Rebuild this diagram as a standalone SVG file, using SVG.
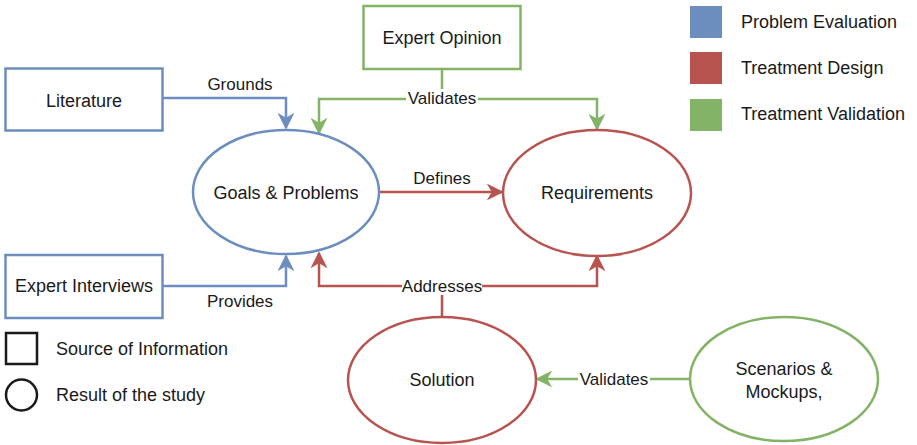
<svg xmlns="http://www.w3.org/2000/svg" width="917" height="445" viewBox="0 0 917 445">
  <style>
    text { font-family: "Liberation Sans", Arial, Helvetica, sans-serif; fill: #1a1a1a; }
    .node { font-size: 18px; text-anchor: middle; }
    .lbl { font-size: 17px; text-anchor: middle; }
    .leg { font-size: 18px; }
    .shape { fill: #ffffff; stroke-width: 2.5; }
    .blue { stroke: #6c8ebf; }
    .red { stroke: #b85450; }
    .green { stroke: #82b366; }
    .edge { fill: none; stroke-width: 2.5; }
    .bg { fill: #ffffff; }
  </style>
  <defs>
    <marker id="arrBlue" viewBox="0 0 10 10" refX="9" refY="5" markerWidth="6.8" markerHeight="6.8" markerUnits="strokeWidth" orient="auto">
      <path d="M0,0 L10,5 L0,10 L3,5 z" fill="#6c8ebf"/>
    </marker>
    <marker id="arrRed" viewBox="0 0 10 10" refX="9" refY="5" markerWidth="6.8" markerHeight="6.8" markerUnits="strokeWidth" orient="auto">
      <path d="M0,0 L10,5 L0,10 L3,5 z" fill="#b85450"/>
    </marker>
    <marker id="arrGreen" viewBox="0 0 10 10" refX="9" refY="5" markerWidth="6.8" markerHeight="6.8" markerUnits="strokeWidth" orient="auto">
      <path d="M0,0 L10,5 L0,10 L3,5 z" fill="#82b366"/>
    </marker>
  </defs>

  <rect width="917" height="445" fill="#ffffff"/>

  <!-- connectors -->
  <g id="connectors">
    <path class="edge blue" d="M162,98 H286 V128" marker-end="url(#arrBlue)"/>
    <path class="edge blue" d="M162,286 H286 V256" marker-end="url(#arrBlue)"/>
    <path class="edge green" d="M442,69 V99 H319 V133" marker-end="url(#arrGreen)"/>
    <path class="edge green" d="M442,99 H597 V129" marker-end="url(#arrGreen)"/>
    <path class="edge red" d="M380,192 H502" marker-end="url(#arrRed)"/>
    <path class="edge red" d="M442,317 V286 H319 V253" marker-end="url(#arrRed)"/>
    <path class="edge red" d="M442,286 H597 V256" marker-end="url(#arrRed)"/>
    <path class="edge green" d="M690,379 H537" marker-end="url(#arrGreen)"/>

    <text class="lbl" x="240" y="90">Grounds</text>
    <text class="lbl" x="240" y="307">Provides</text>
    <text class="lbl" x="442" y="184">Defines</text>
    <rect class="bg" x="406" y="89" width="72" height="18"/>
    <text class="lbl" x="442" y="104">Validates</text>
    <rect class="bg" x="402" y="276" width="80" height="19"/>
    <text class="lbl" x="442" y="292">Addresses</text>
    <rect class="bg" x="578" y="370" width="72" height="18"/>
    <text class="lbl" x="614" y="385">Validates</text>
  </g>

  <!-- sources of information -->
  <g id="literature">
    <rect class="shape blue" x="5.5" y="68.5" width="157" height="62"/>
    <text class="node" x="84" y="107">Literature</text>
  </g>
  <g id="expert-interviews">
    <rect class="shape blue" x="5.5" y="255" width="157" height="63"/>
    <text class="node" x="84" y="292">Expert Interviews</text>
  </g>
  <g id="expert-opinion">
    <rect class="shape green" x="363.5" y="6" width="157" height="63"/>
    <text class="node" x="442" y="44">Expert Opinion</text>
  </g>

  <!-- results of the study -->
  <g id="goals-problems">
    <ellipse class="shape blue" cx="286" cy="192" rx="93" ry="62"/>
    <text class="node" x="286" y="199">Goals &amp; Problems</text>
  </g>
  <g id="requirements">
    <ellipse class="shape red" cx="597" cy="193" rx="94" ry="63"/>
    <text class="node" x="597" y="199">Requirements</text>
  </g>
  <g id="solution">
    <ellipse class="shape red" cx="442" cy="380" rx="94" ry="63"/>
    <text class="node" x="442" y="386">Solution</text>
  </g>
  <g id="scenarios-mockups">
    <ellipse class="shape green" cx="784" cy="379" rx="94" ry="62"/>
    <text class="node" x="784" y="375">Scenarios &amp;</text>
    <text class="node" x="784" y="398">Mockups,</text>
  </g>

  <!-- legend: colours -->
  <g id="legend-colours">
    <rect x="690" y="6" width="32" height="32" fill="#6c8ebf"/>
    <text class="leg" x="741" y="28">Problem Evaluation</text>
    <rect x="690" y="52" width="32" height="32" fill="#b85450"/>
    <text class="leg" x="741" y="74">Treatment Design</text>
    <rect x="690" y="99" width="32" height="32" fill="#82b366"/>
    <text class="leg" x="741" y="120">Treatment Validation</text>
  </g>

  <!-- legend: shapes -->
  <g id="legend-shapes">
    <rect x="6" y="333" width="31" height="31" fill="none" stroke="#1a1a1a" stroke-width="2.5"/>
    <text class="leg" x="56" y="355">Source of Information</text>
    <circle cx="21.5" cy="395" r="15.5" fill="none" stroke="#1a1a1a" stroke-width="2.5"/>
    <text class="leg" x="56" y="401">Result of the study</text>
  </g>
</svg>
